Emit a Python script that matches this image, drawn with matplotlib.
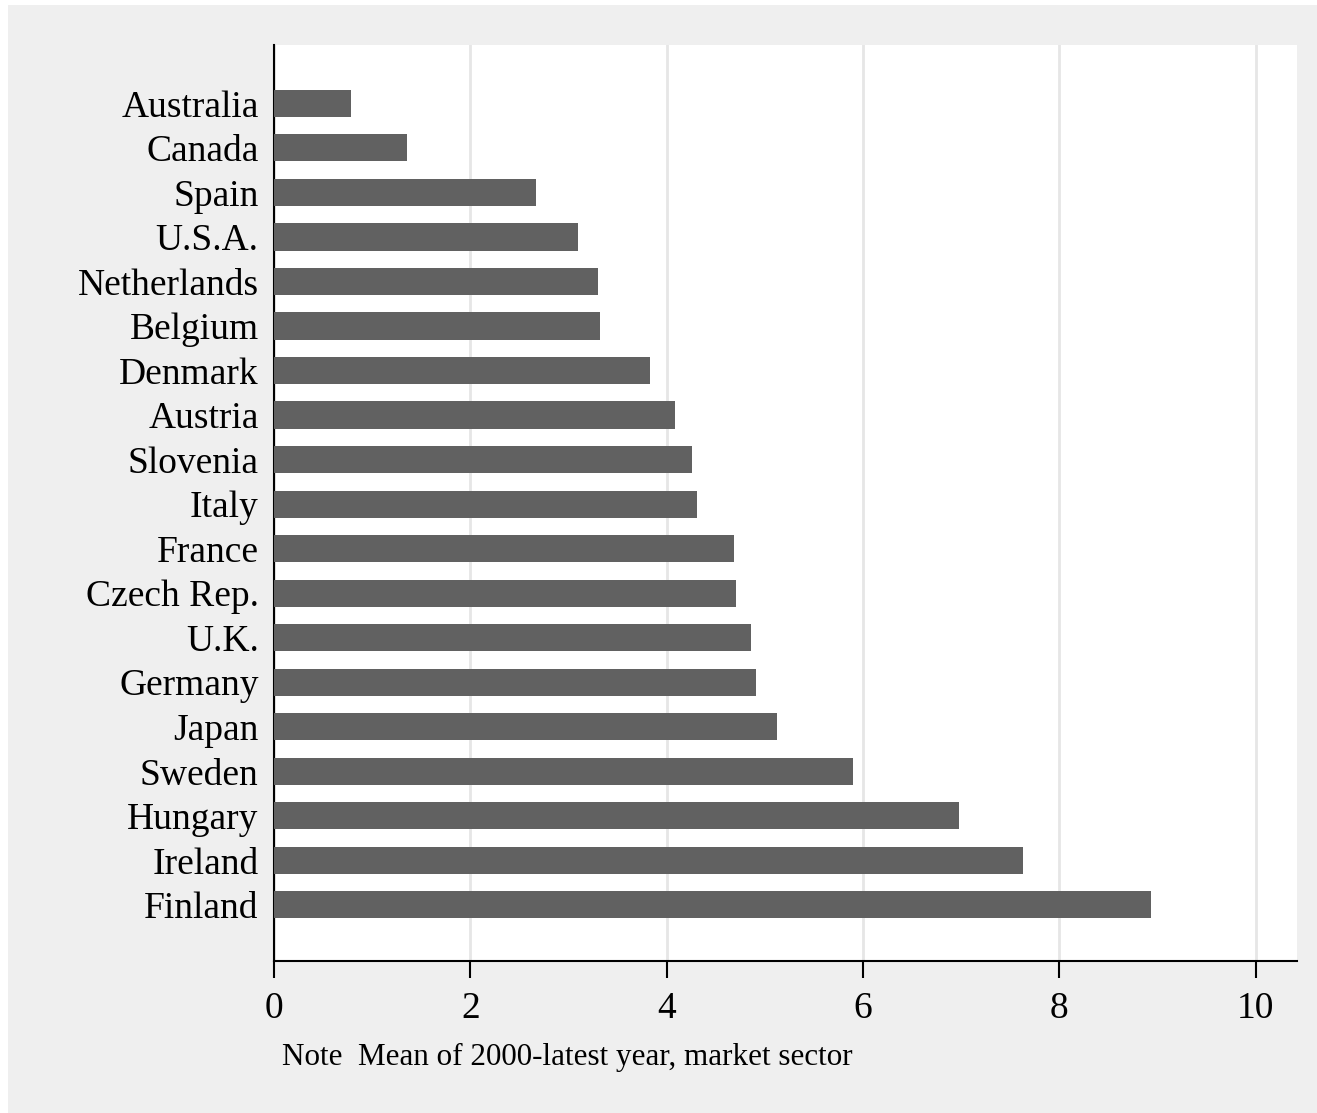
import matplotlib.pyplot as plt
from matplotlib.patches import Rectangle
import numpy as np

countries = ['Australia', 'Canada', 'Spain', 'U.S.A.', 'Netherlands', 'Belgium',
             'Denmark', 'Austria', 'Slovenia', 'Italy', 'France', 'Czech Rep.',
             'U.K.', 'Germany', 'Japan', 'Sweden', 'Hungary', 'Ireland', 'Finland']
values = [0.78, 1.35, 2.67, 3.10, 3.30, 3.32, 3.83, 4.08, 4.26, 4.31,
          4.69, 4.71, 4.86, 4.91, 5.12, 5.90, 6.98, 7.63, 8.93]
xticks = [0, 2, 4, 6, 8, 10]
note = 'Note  Mean of 2000-latest year, market sector'

plt.rcParams['font.family'] = ['Liberation Serif', 'DejaVu Serif']

fig = plt.figure(figsize=(13.17, 11.13), dpi=100)
fig.patch.set_facecolor('white')
# light gray outer region (Stata style)
fig.add_artist(Rectangle((8 / 1317, 0), 1 - 8 / 1317, 1 - 5 / 1113,
                         transform=fig.transFigure, facecolor='#efefef',
                         edgecolor='none', zorder=-10))

ax = fig.add_axes([274 / 1317, 1 - 961 / 1113, (1297 - 274) / 1317, (961 - 45) / 1113])
ax.set_facecolor('white')

y = np.arange(len(countries))
ax.barh(y, values, height=0.61, color='#616161', zorder=3)

ax.set_xlim(0, 10.42)
ax.set_ylim(len(countries) - 1 + 1.26, -1.31)
ax.set_yticks(y)
ax.set_yticklabels(countries, fontsize=27)
ax.set_xticks(xticks)
ax.set_xticklabels([str(t) for t in xticks], fontsize=27)

ax.tick_params(axis='y', length=0, pad=11)
ax.tick_params(axis='x', length=12, width=1.5, direction='out', pad=10, color='black')
ax.grid(axis='x', color='#e6e6e6', linewidth=2, zorder=0)

for s in ['top', 'right']:
    ax.spines[s].set_visible(False)
for s in ['left', 'bottom']:
    ax.spines[s].set_linewidth(1.5)
    ax.spines[s].set_color('black')

fig.text(282 / 1317, 1 - 1057 / 1113, note, fontsize=22.4, va='center', ha='left')

fig.savefig('out.png', dpi=100, facecolor=fig.get_facecolor())
